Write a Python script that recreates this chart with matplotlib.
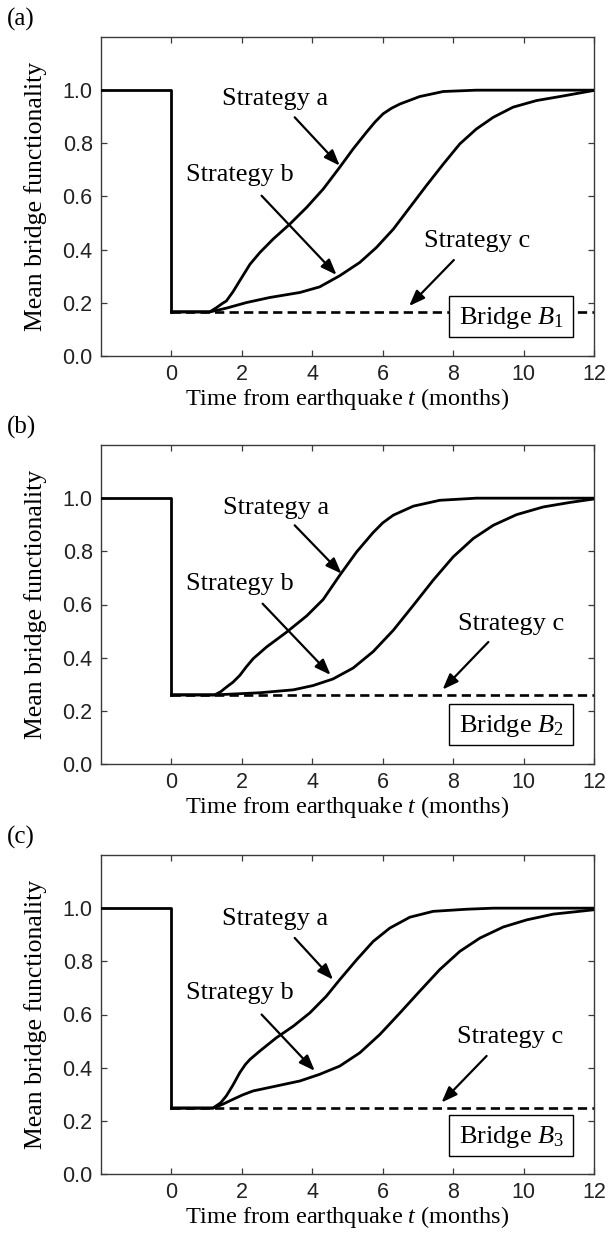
import numpy as np
import matplotlib.pyplot as plt
from matplotlib.patches import Rectangle

plt.rcParams['font.family'] = ['Liberation Serif', 'DejaVu Serif']
plt.rcParams['mathtext.fontset'] = 'custom'
plt.rcParams['mathtext.rm'] = 'Liberation Serif'
plt.rcParams['mathtext.it'] = 'Liberation Serif:italic'

# time before the earthquake (full functionality)
t_pre = [-2, 0]
f_pre = [1.0, 1.0]

# panel (a) - bridge B1
low_1 = 0.166
t_a1 = [0, 1.09, 1.28, 1.45, 1.56, 1.75, 1.94, 2.23, 2.51, 2.89, 3.36, 3.84, 4.31, 4.78,
        5.16, 5.54, 5.78, 6.01, 6.25, 6.49, 7.05, 7.72, 8.66, 12]
f_a1 = [0.166, 0.166, 0.182, 0.198, 0.207, 0.242, 0.283, 0.345, 0.389, 0.44, 0.496, 0.559,
        0.628, 0.71, 0.779, 0.842, 0.88, 0.911, 0.932, 0.948, 0.976, 0.995, 1.0, 1.0]
t_b1 = [0, 1.09, 1.3, 1.56, 2.13, 2.79, 3.65, 4.21, 4.78, 5.35, 5.82, 6.30, 6.77, 7.24,
        7.72, 8.19, 8.66, 9.14, 9.7, 10.37, 11.03, 12]
f_b1 = [0.166, 0.166, 0.172, 0.18, 0.201, 0.22, 0.239, 0.26, 0.302, 0.352, 0.408, 0.477,
        0.559, 0.641, 0.722, 0.798, 0.854, 0.898, 0.936, 0.961, 0.976, 0.999]

# panel (b) - bridge B2
low_2 = 0.26
t_a2 = [0, 1.23, 1.4, 1.56, 1.75, 1.94, 2.13, 2.32, 2.7, 3.27, 3.84, 4.31, 4.78, 5.26,
        5.73, 6.0, 6.3, 6.87, 7.62, 8.66, 12]
f_a2 = [0.26, 0.26, 0.272, 0.289, 0.308, 0.333, 0.366, 0.396, 0.44, 0.496, 0.557, 0.619,
        0.71, 0.798, 0.871, 0.907, 0.936, 0.97, 0.992, 1.0, 1.0]
t_b2 = [0, 1.23, 2.51, 3.46, 4.02, 4.59, 5.16, 5.73, 6.3, 6.87, 7.43, 8.0, 8.57, 9.14,
        9.8, 10.56, 11.32, 12]
f_b2 = [0.26, 0.26, 0.268, 0.279, 0.295, 0.32, 0.361, 0.423, 0.503, 0.597, 0.691, 0.779,
        0.848, 0.898, 0.938, 0.967, 0.984, 0.997]

# panel (c) - bridge B3
low_3 = 0.248
t_a3 = [0, 1.18, 1.4, 1.56, 1.75, 1.94, 2.1, 2.23, 2.51, 2.98, 3.46, 3.93, 4.4, 4.78,
        5.26, 5.73, 6.2, 6.77, 7.43, 8.38, 9.14, 12]
f_a3 = [0.248, 0.248, 0.268, 0.294, 0.335, 0.381, 0.412, 0.431, 0.4625, 0.5125, 0.556,
        0.606, 0.669, 0.731, 0.806, 0.875, 0.925, 0.966, 0.988, 0.996, 1.0, 1.0]
t_b3 = [0, 1.18, 1.45, 1.75, 2.03, 2.32, 2.98, 3.65, 4.21, 4.78, 5.35, 5.92, 6.49, 7.05,
        7.62, 8.19, 8.76, 9.42, 10.09, 10.84, 12]
f_b3 = [0.248, 0.248, 0.262, 0.281, 0.298, 0.3125, 0.331, 0.35, 0.375, 0.406, 0.456,
        0.525, 0.606, 0.6875, 0.769, 0.8375, 0.8875, 0.929, 0.956, 0.9775, 0.994]

x_ticks = [0, 2, 4, 6, 8, 10, 12]
y_ticks = [0.0, 0.2, 0.4, 0.6, 0.8, 1.0]
panel_tags = ['(a)', '(b)', '(c)']
bridge_names = [r'Bridge $B_1$', r'Bridge $B_2$', r'Bridge $B_3$']

# annotation placement per panel: (text xy, arrow start, arrow tip)
ann_a = [((2.95, 0.965), (3.5, 0.898), (4.78, 0.716)),
         ((2.97, 0.964), (3.5, 0.898), (4.83, 0.716)),
         ((2.95, 0.959), (3.5, 0.888), (4.59, 0.731))]
ann_b = [((1.93, 0.682), (2.56, 0.603), (4.69, 0.305)),
         ((1.94, 0.678), (2.59, 0.603), (4.52, 0.335)),
         ((1.93, 0.679), (2.56, 0.600), (4.07, 0.388))]
ann_c = [((8.69, 0.431), (8.02, 0.361), (6.75, 0.188)),
         ((9.66, 0.525), (9.00, 0.459), (7.70, 0.280)),
         ((9.62, 0.516), (8.95, 0.444), (7.67, 0.269))]
box_y = [(0.072, 0.226), (0.072, 0.225), (0.069, 0.2225)]

panels = [(low_1, t_a1, f_a1, t_b1, f_b1),
          (low_2, t_a2, f_a2, t_b2, f_b2),
          (low_3, t_a3, f_a3, t_b3, f_b3)]

fig = plt.figure(figsize=(6.11, 12.36), dpi=100)
bottoms = [1 - 356 / 1236, 1 - 764 / 1236, 1 - 1174 / 1236]
spine_col = '#3a3a3a'

for i, (low, ta, fa, tb, fb) in enumerate(panels):
    ax = fig.add_axes([101 / 611, bottoms[i], 493 / 611, 319 / 1236])

    ax.plot([0, 12], [low, low], color='k', lw=1.9, ls=(0, (3.5, 2.0)), zorder=2)
    ax.plot(t_pre + [0], f_pre + [low], color='k', lw=2.0, zorder=3)
    ax.plot(ta, fa, color='k', lw=2.0, zorder=3, solid_joinstyle='round')
    ax.plot(tb, fb, color='k', lw=2.0, zorder=3, solid_joinstyle='round')

    for label, (txy, start, tip) in zip(['Strategy a', 'Strategy b', 'Strategy c'],
                                        [ann_a[i], ann_b[i], ann_c[i]]):
        ax.text(txy[0], txy[1], label, fontsize=19, ha='center', va='center')
        ax.annotate('', xy=tip, xytext=start,
                    arrowprops=dict(arrowstyle='-|>,head_length=0.95,head_width=0.36',
                                    color='k', lw=1.6, shrinkA=0, shrinkB=0,
                                    mutation_scale=10))

    y0, y1 = box_y[i]
    ax.add_patch(Rectangle((7.88, y0), 11.41 - 7.88, y1 - y0, facecolor='white',
                           edgecolor='k', lw=1.0, zorder=4))
    ax.text((7.88 + 11.41) / 2, (y0 + y1) / 2 - 0.005, bridge_names[i], fontsize=19,
            ha='center', va='center', zorder=5)

    ax.set_xlim(-2, 12)
    ax.set_ylim(0, 1.2)
    ax.set_xticks(x_ticks)
    ax.set_yticks(y_ticks)
    ax.set_yticklabels(['%.1f' % v for v in y_ticks])
    ax.tick_params(direction='in', top=True, right=True, length=4, width=0.9,
                   colors=spine_col, labelcolor='#222222', labelsize=15.5, pad=6)
    for lab in ax.get_xticklabels() + ax.get_yticklabels():
        lab.set_family('Liberation Sans')
    for sp in ax.spines.values():
        sp.set_color(spine_col)
        sp.set_linewidth(1.0)

    ax.set_xlabel(r'Time from earthquake $t$ (months)', fontsize=17.5, va='top')
    ax.xaxis.set_label_coords(0.5, -0.095)
    ax.set_ylabel('Mean bridge functionality', fontsize=18.5)
    ax.yaxis.set_label_coords(-0.11, 0.5)

    ax.text(-0.19, 1.055, panel_tags[i], transform=ax.transAxes, fontsize=18,
            ha='left', va='center')

fig.savefig('out.png', dpi=100)
